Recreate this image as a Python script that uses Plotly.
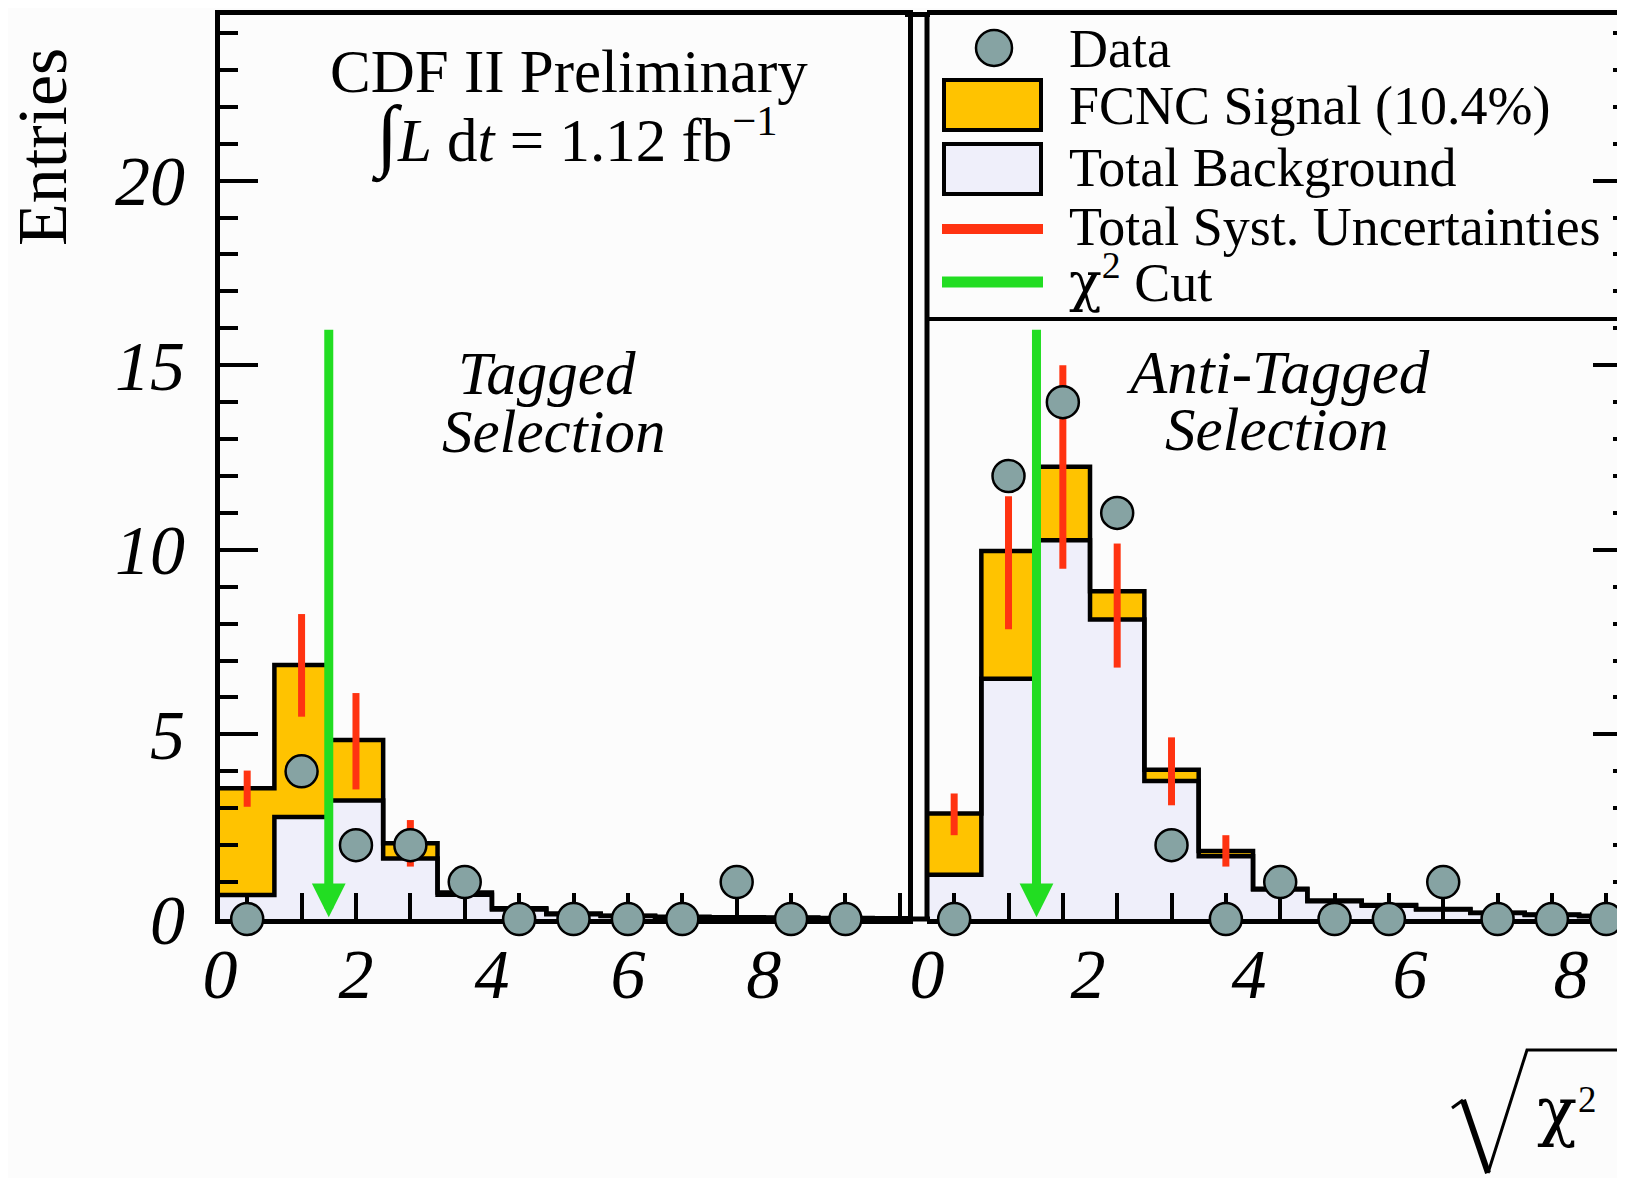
import plotly.graph_objects as go

W, H = 1625, 1178
OFF = 8  # page body margin that shifts the figure in the browser window

# ---------------- data ----------------
left_bin_width = 0.8
left_total = [3.54, 6.88, 4.85, 2.05, 0.72, 0.29, 0.15, 0.09, 0.06, 0.05, 0.04, 0.03, 0.02]
left_bkg = [0.65, 2.76, 3.21, 1.64, 0.66, 0.26, 0.13, 0.08, 0.05, 0.04, 0.03, 0.02, 0.02]
left_syst_hi = [4.02, 8.26, 6.12, 2.68]
left_syst_lo = [3.04, 5.48, 3.51, 1.42]
left_data = [0, 4, 2, 2, 1, 0, 0, 0, 0, 1, 0, 0]
left_cut = 1.6

right_bin_width = 0.675
right_total = [2.86, 9.97, 12.25, 8.88, 4.04, 1.84, 0.82, 0.50, 0.38, 0.27, 0.17, 0.12, 0.08]
right_bkg = [1.20, 6.51, 10.26, 8.11, 3.74, 1.70, 0.80, 0.48, 0.36, 0.26, 0.16, 0.11, 0.08]
right_syst_hi = [3.40, 11.45, 15.00, 10.17, 4.92, 2.27]
right_syst_lo = [2.27, 7.85, 9.49, 6.81, 3.08, 1.42]
right_data = [0, 12, 14, 11, 2, 0, 1, 0, 0, 1, 0, 0, 0]
right_cut = 1.36

cut_arrow_top = 16.0
x_tick_labels = [0, 2, 4, 6, 8]

legend_labels = ["Data", "FCNC Signal (10.4%)", "Total Background",
                 "Total Syst. Uncertainties",
                 "<span style='font-family:DejaVu Serif'>χ</span><sup>2</sup> Cut"]

# ---------------- style ----------------
BG = "#fcfcfc"
SIG = "#ffc300"
BKG = "#efeffa"
DATA_C = "#86a3a3"
RED = "#ff3311"
GREEN = "#22dd22"
FONT = "Liberation Serif"


def px(x):
    return (x - OFF) / W


def py(y):
    return 1 - (y - OFF) / H


Y_DOMAIN = [py(919), py(14.5)]
Y_RANGE = [0, 24.5]
X1_DOMAIN = [px(220), px(908)]
X1_RANGE = [0, 10.12]
X2_DOMAIN = [px(927), px(1631)]
X2_RANGE = [0, 8.745]


def edges(width, n):
    return [width * i for i in range(n + 1)]


def centers(width, n):
    return [width * (i + 0.5) for i in range(n)]


fig = go.Figure()

panels = [
    ("x", "y", "x3", "y3", left_bin_width, left_bkg, left_total, left_syst_lo, left_syst_hi, left_data),
    ("x2", "y2", "x4", "y4", right_bin_width, right_bkg, right_total, right_syst_lo, right_syst_hi, right_data),
]

for xa, ya, xd, yd, bw, bkg, tot, slo, shi, dat in panels:
    n = len(tot)
    e = edges(bw, n)
    fig.add_trace(go.Scatter(
        x=e, y=list(bkg) + [bkg[-1]], xaxis=xa, yaxis=ya, mode="lines",
        line=dict(shape="hv", color="black", width=4.5),
        fill="tozeroy", fillcolor=BKG, showlegend=False, hoverinfo="skip"))
    fig.add_trace(go.Scatter(
        x=e, y=list(tot) + [tot[-1]], xaxis=xa, yaxis=ya, mode="lines",
        line=dict(shape="hv", color="black", width=4.5),
        fill="tonexty", fillcolor=SIG, showlegend=False, hoverinfo="skip"))
    c = centers(bw, len(shi))
    mid = [(a + b) / 2 for a, b in zip(slo, shi)]
    fig.add_trace(go.Scatter(
        x=c, y=mid, xaxis=xa, yaxis=ya, mode="markers",
        marker=dict(size=1, color="rgba(0,0,0,0)"),
        error_y=dict(type="data", symmetric=False,
                     array=[h - m for h, m in zip(shi, mid)],
                     arrayminus=[m - l for m, l in zip(mid, slo)],
                     color=RED, thickness=7, width=0),
        showlegend=False, hoverinfo="skip"))
    fig.add_trace(go.Scatter(
        x=centers(bw, len(dat)), y=dat, xaxis=xd, yaxis=yd, mode="markers",
        marker=dict(size=32, color=DATA_C, line=dict(color="black", width=2.5)),
        cliponaxis=False, showlegend=False, hoverinfo="skip"))

common_frame = dict(showgrid=False, zeroline=False, linecolor="black", linewidth=5,
                    tickcolor="black", tickwidth=4, fixedrange=True, automargin=False)
label_font = dict(family=FONT, size=70, color="black", style="italic")

fig.update_layout(
    width=W, height=H, autosize=False,
    margin=dict(l=0, r=0, t=0, b=0, pad=0),
    paper_bgcolor=BG, plot_bgcolor="rgba(0,0,0,0)",
    showlegend=False,
    xaxis=dict(domain=X1_DOMAIN, range=X1_RANGE, anchor="y", showline=True, mirror=True,
               ticks="inside", ticklen=26, tickmode="array",
               tickvals=centers(left_bin_width, len(left_total)),
               showticklabels=False, **common_frame),
    yaxis=dict(domain=Y_DOMAIN, range=Y_RANGE, anchor="x", showline=True, mirror=True,
               ticks="inside", ticklen=38, tickmode="linear", tick0=0, dtick=5,
               minor=dict(ticks="inside", ticklen=18, tickwidth=4, tickcolor="black",
                          dtick=1, tick0=0, showgrid=False),
               tickfont=label_font, ticklabelstandoff=16, **common_frame),
    xaxis2=dict(domain=X2_DOMAIN, range=X2_RANGE, anchor="y2", showline=True, mirror=True,
                ticks="inside", ticklen=26, tickmode="array",
                tickvals=centers(right_bin_width, len(right_total)),
                showticklabels=False, **common_frame),
    yaxis2=dict(domain=Y_DOMAIN, range=Y_RANGE, anchor="x2", side="right", showline=False,
                ticks="inside", ticklen=38, tickmode="linear", tick0=0, dtick=5,
                minor=dict(ticks="inside", ticklen=18, tickwidth=4, tickcolor="black",
                           dtick=1, tick0=0, showgrid=False),
                showticklabels=False, **common_frame),
    xaxis3=dict(domain=X1_DOMAIN, range=X1_RANGE, anchor="y3", showline=False, ticks="",
                tickmode="array", tickvals=x_tick_labels, tickfont=label_font,
                ticklabelstandoff=8, showgrid=False, zeroline=False, fixedrange=True,
                automargin=False),
    yaxis3=dict(domain=Y_DOMAIN, range=Y_RANGE, anchor="x3", visible=False, fixedrange=True,
                automargin=False),
    xaxis4=dict(domain=X2_DOMAIN, range=X2_RANGE, anchor="y4", showline=False, ticks="",
                tickmode="array", tickvals=x_tick_labels, tickfont=label_font,
                ticklabelstandoff=8, showgrid=False, zeroline=False, fixedrange=True,
                automargin=False),
    yaxis4=dict(domain=Y_DOMAIN, range=Y_RANGE, anchor="x4", visible=False, fixedrange=True,
                automargin=False),
)

# cut arrows
for xa, ya, cut in [("x", "y", left_cut), ("x2", "y2", right_cut)]:
    fig.add_annotation(x=cut, y=0.05, xref=xa, yref=ya, ax=cut, ay=cut_arrow_top,
                       axref=xa, ayref=ya, text="", showarrow=True, arrowhead=2,
                       arrowsize=0.75, arrowwidth=9, arrowcolor=GREEN, standoff=0)

# frame decorations
shapes = [
    dict(type="line", xref="paper", yref="paper", x0=px(905), x1=px(930),
         y0=Y_DOMAIN[1], y1=Y_DOMAIN[1], line=dict(color="black", width=5)),
    dict(type="line", xref="paper", yref="paper", x0=px(905), x1=px(930),
         y0=Y_DOMAIN[0], y1=Y_DOMAIN[0], line=dict(color="black", width=5)),
    dict(type="line", xref="paper", yref="paper", x0=X2_DOMAIN[0], x1=X2_DOMAIN[0],
         y0=Y_DOMAIN[0], y1=Y_DOMAIN[1], line=dict(color="black", width=5)),
    # legend box bottom
    dict(type="line", xref="paper", yref="paper", x0=X2_DOMAIN[0], x1=1,
         y0=py(319), y1=py(319), line=dict(color="black", width=4)),
    # legend symbols
    dict(type="circle", xref="paper", yref="paper", x0=px(976), x1=px(1012),
         y0=py(66), y1=py(30), fillcolor=DATA_C, line=dict(color="black", width=2.5)),
    dict(type="rect", xref="paper", yref="paper", x0=px(944), x1=px(1041),
         y0=py(130), y1=py(80), fillcolor=SIG, line=dict(color="black", width=4)),
    dict(type="rect", xref="paper", yref="paper", x0=px(944), x1=px(1041),
         y0=py(194), y1=py(144), fillcolor=BKG, line=dict(color="black", width=4)),
    dict(type="line", xref="paper", yref="paper", x0=px(942), x1=px(1043),
         y0=py(229), y1=py(229), line=dict(color=RED, width=10)),
    dict(type="line", xref="paper", yref="paper", x0=px(942), x1=px(1043),
         y0=py(282), y1=py(282), line=dict(color=GREEN, width=11)),
    # radical sign of the x title
    dict(type="path", xref="paper", yref="paper",
         path=f"M {px(1452)},{py(1108)} L {px(1463)},{py(1100)}",
         line=dict(color="black", width=3)),
    dict(type="path", xref="paper", yref="paper",
         path=f"M {px(1463)},{py(1100)} L {px(1488)},{py(1173)}",
         line=dict(color="black", width=6)),
    dict(type="path", xref="paper", yref="paper",
         path=f"M {px(1488)},{py(1173)} L {px(1527)},{py(1050)} L {px(1634)},{py(1050)}",
         line=dict(color="black", width=3)),
]
for s in shapes:
    fig.add_shape(**s)


def text(x, y, s, size, italic=False, xanchor="center", angle=0, family=FONT):
    f = dict(family=family, size=size, color="black")
    if italic:
        f["style"] = "italic"
    fig.add_annotation(x=px(x), y=py(y), xref="paper", yref="paper", text=s,
                       showarrow=False, font=f, xanchor=xanchor, yanchor="middle",
                       textangle=angle)


text(569, 71, "CDF II Preliminary", 61)
text(574, 137, "<span style='font-size:80px'>∫</span><i>L</i> d<i>t</i> = 1.12 fb<sup>−1</sup>", 61)
text(547, 374, "Tagged", 61, italic=True)
text(554, 431, "Selection", 61, italic=True)
text(1278, 372, "Anti-Tagged", 61, italic=True)
text(1277, 429, "Selection", 61, italic=True)
text(42, 147, "Entries", 70, angle=-90)
text(1557, 1110, "χ", 66, family="DejaVu Serif")
text(1587, 1099, "2", 37)

legend_y = [49, 106, 168, 227, 279]
for lab, ly in zip(legend_labels, legend_y):
    text(1067, ly, lab, 54, xanchor="left")

fig.write_html("out.html")
